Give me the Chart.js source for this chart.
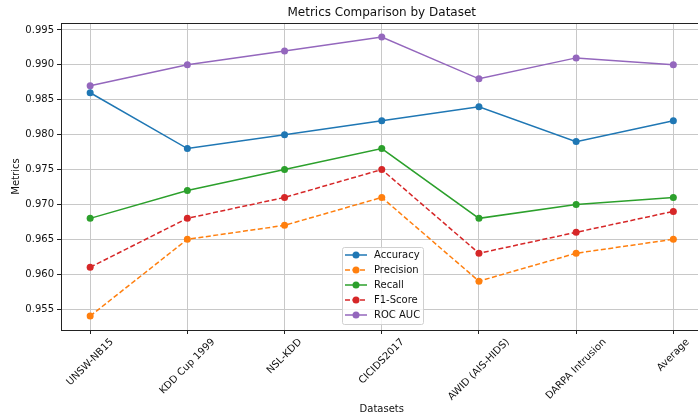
<!DOCTYPE html>
<html>
<head>
<meta charset="utf-8">
<script src="https://cdn.jsdelivr.net/npm/chart.js@4"></script>
<style>
  html, body { margin: 0; padding: 0; overflow: hidden; background: #fff; }
  #wrap { width: 706px; height: 417px; }
</style>
</head>
<body>
<div id="wrap"><canvas id="chart"></canvas></div>
<script>
const datasetsNames = ['UNSW-NB15', 'KDD Cup 1999', 'NSL-KDD', 'CICIDS2017', 'AWID (AIS-HIDS)', 'DARPA Intrusion', 'Average'];
const accuracy  = [0.986, 0.978, 0.980, 0.982, 0.984, 0.979, 0.982];
const precision = [0.954, 0.965, 0.967, 0.971, 0.959, 0.963, 0.965];
const recall    = [0.968, 0.972, 0.975, 0.978, 0.968, 0.970, 0.971];
const f1Score   = [0.961, 0.968, 0.971, 0.975, 0.963, 0.966, 0.969];
const rocAuc    = [0.987, 0.990, 0.992, 0.994, 0.988, 0.991, 0.990];

const FONT = "'DejaVu Sans', sans-serif";
const GRID = '#c8c8c8';

const series = [
    { label: 'Accuracy',  data: accuracy,  color: '#1f77b4', dash: [] },
    { label: 'Precision', data: precision, color: '#ff7f0e', dash: [5, 2.5] },
    { label: 'Recall',    data: recall,    color: '#2ca02c', dash: [] },
    { label: 'F1-Score',  data: f1Score,   color: '#d62728', dash: [5, 2.5] },
    { label: 'ROC AUC',   data: rocAuc,    color: '#9467bd', dash: [] },
];

// titles, rotated x labels, spines and the in-plot legend
const decorations = {
    id: 'decorations',
    afterDraw(chart) {
        const ctx = chart.ctx;
        const area = chart.chartArea;
        const xs = chart.scales.x;
        ctx.save();

        // spines
        ctx.strokeStyle = '#222';
        ctx.lineWidth = 1;
        ctx.strokeRect(area.left + 0.5, area.top + 0.5, area.right - area.left - 1, area.bottom - area.top);

        ctx.fillStyle = '#111';
        ctx.font = '10px ' + FONT;

        // x tick labels, rotated 45 and centered on the tick
        datasetsNames.forEach((name, i) => {
            const x = xs.getPixelForValue(i);
            const w = ctx.measureText(name).width;
            const h = 10;
            const y0 = area.bottom + 7;
            const d = (w + h) / (2 * Math.SQRT2);
            ctx.save();
            ctx.translate(x, y0 + d);
            ctx.rotate(-Math.PI / 4);
            ctx.textAlign = 'center';
            ctx.textBaseline = 'middle';
            ctx.fillText(name, 0, 0);
            ctx.restore();
        });

        // axis titles
        ctx.textAlign = 'center';
        ctx.textBaseline = 'middle';
        ctx.fillText('Datasets', (area.left + area.right) / 2, 409);
        ctx.save();
        ctx.translate(16, (area.top + area.bottom) / 2);
        ctx.rotate(-Math.PI / 2);
        ctx.fillText('Metrics', 0, 0);
        ctx.restore();

        ctx.font = '12px ' + FONT;
        ctx.fillText('Metrics Comparison by Dataset', (area.left + area.right) / 2, 13);

        // legend
        const lx = 342, ly = 247, lw = 81, lh = 77;
        ctx.fillStyle = 'rgba(255,255,255,0.8)';
        ctx.strokeStyle = '#d0d0d0';
        ctx.lineWidth = 1;
        ctx.beginPath();
        ctx.roundRect(lx + 0.5, ly + 0.5, lw, lh, 2);
        ctx.fill();
        ctx.stroke();
        ctx.font = '10px ' + FONT;
        ctx.textAlign = 'left';
        series.forEach((s, i) => {
            const y = ly + 8 + i * 15;
            ctx.strokeStyle = s.color;
            ctx.lineWidth = 1.5;
            ctx.setLineDash(s.dash);
            ctx.beginPath();
            ctx.moveTo(345, y);
            ctx.lineTo(367, y);
            ctx.stroke();
            ctx.setLineDash([]);
            ctx.fillStyle = s.color;
            ctx.beginPath();
            ctx.arc(356, y, 3.5, 0, Math.PI * 2);
            ctx.fill();
            ctx.fillStyle = '#111';
            ctx.fillText(s.label, 374, y);
        });

        ctx.restore();
    }
};

new Chart(document.getElementById('chart'), {
    type: 'line',
    data: {
        datasets: series.map(s => ({
            label: s.label,
            data: s.data.map((v, i) => ({ x: i, y: v })),
            borderColor: s.color,
            backgroundColor: s.color,
            borderWidth: 1.5,
            borderDash: s.dash,
            pointRadius: 3.5,
            pointHoverRadius: 3.5,
            pointBorderWidth: 0,
            tension: 0,
        }))
    },
    options: {
        responsive: true,
        maintainAspectRatio: false,
        animation: false,
        layout: { padding: { top: 23, right: 1, left: 0, bottom: 0 } },
        plugins: {
            legend: { display: false },
            title: { display: false },
            tooltip: { enabled: false },
        },
        scales: {
            x: {
                type: 'linear',
                min: -0.3,
                max: 6.3,
                afterBuildTicks(scale) {
                    scale.ticks = datasetsNames.map((_, i) => ({ value: i }));
                },
                afterFit(scale) { scale.height = 87; },
                ticks: { display: false },
                grid: { color: GRID, lineWidth: 1, tickLength: 4, tickColor: '#222' },
                border: { display: false },
            },
            y: {
                type: 'linear',
                min: 0.952,
                max: 0.996,
                afterFit(scale) { scale.width = 61; },
                ticks: {
                    stepSize: 0.005,
                    includeBounds: false,
                    padding: 3,
                    color: '#111',
                    font: { family: FONT, size: 10 },
                    callback: v => v.toFixed(3),
                },
                grid: { color: GRID, lineWidth: 1, tickLength: 4, tickColor: '#222' },
                border: { display: false },
            },
        },
    },
    plugins: [decorations],
});
</script>
</body>
</html>
